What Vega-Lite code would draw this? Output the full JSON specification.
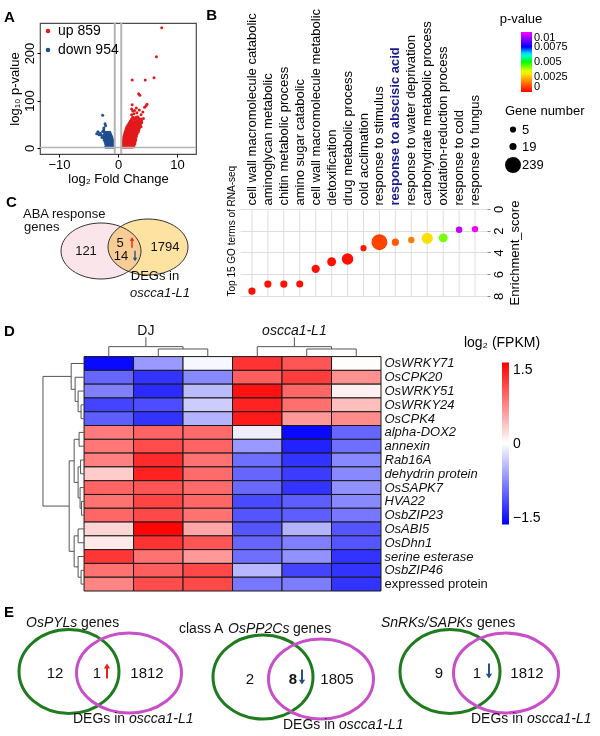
{
"$schema": "https://vega.github.io/schema/vega-lite/v6.json",
"padding": {"left": 3, "top": 8, "right": 0, "bottom": 0},
"spacing": 0,
"resolve": {"scale": {"color": "independent", "size": "independent"}, "legend": {"color": "independent", "size": "independent"}},
"config": {
  "font": "Liberation Sans",
  "view": {"stroke": null},
  "axis": {"labelColor": "#000000", "titleColor": "#000000", "domainColor": "#000000", "tickColor": "#000000", "titleFontWeight": "normal"},
  "legend": {"labelColor": "#000000", "titleColor": "#000000", "titleFontWeight": "normal"},
  "title": {"color": "#000000"}
},
"vconcat": [
{"hconcat": [
 {"vconcat": [
  {
   "width": 156, "height": 131,
   "view": {"stroke": "#4d4d4d", "strokeWidth": 1.2},
   "title": {"text": "A", "anchor": "start", "frame": "group", "offset": -3, "dx": -36, "fontSize": 15, "fontWeight": "bold"},
   "layer": [
    {
     "data": {"values": [
      {"fc":0.7,"logp":2,"reg":"up"},{"fc":0.9,"logp":2,"reg":"up"},{"fc":1.1,"logp":2,"reg":"up"},{"fc":1.3,"logp":2,"reg":"up"},{"fc":1.5,"logp":2,"reg":"up"},{"fc":1.7,"logp":2,"reg":"up"},{"fc":1.9,"logp":2,"reg":"up"},{"fc":2.1,"logp":2,"reg":"up"},{"fc":2.3,"logp":2,"reg":"up"},{"fc":2.5,"logp":2,"reg":"up"},
      {"fc":0.75,"logp":5,"reg":"up"},{"fc":0.95,"logp":5,"reg":"up"},{"fc":1.15,"logp":5,"reg":"up"},{"fc":1.35,"logp":5,"reg":"up"},{"fc":1.55,"logp":5,"reg":"up"},{"fc":1.75,"logp":5,"reg":"up"},{"fc":1.95,"logp":5,"reg":"up"},{"fc":2.2,"logp":5,"reg":"up"},{"fc":2.45,"logp":5,"reg":"up"},{"fc":2.7,"logp":5,"reg":"up"},
      {"fc":0.8,"logp":9,"reg":"up"},{"fc":1.0,"logp":9,"reg":"up"},{"fc":1.2,"logp":9,"reg":"up"},{"fc":1.4,"logp":9,"reg":"up"},{"fc":1.6,"logp":9,"reg":"up"},{"fc":1.8,"logp":9,"reg":"up"},{"fc":2.05,"logp":9,"reg":"up"},{"fc":2.3,"logp":9,"reg":"up"},{"fc":2.6,"logp":9,"reg":"up"},{"fc":2.85,"logp":9,"reg":"up"},
      {"fc":0.85,"logp":13,"reg":"up"},{"fc":1.05,"logp":13,"reg":"up"},{"fc":1.25,"logp":13,"reg":"up"},{"fc":1.45,"logp":13,"reg":"up"},{"fc":1.65,"logp":13,"reg":"up"},{"fc":1.85,"logp":13,"reg":"up"},{"fc":2.1,"logp":13,"reg":"up"},{"fc":2.35,"logp":13,"reg":"up"},{"fc":2.6,"logp":13,"reg":"up"},{"fc":2.9,"logp":13,"reg":"up"},
      {"fc":0.9,"logp":17,"reg":"up"},{"fc":1.1,"logp":17,"reg":"up"},{"fc":1.3,"logp":17,"reg":"up"},{"fc":1.5,"logp":17,"reg":"up"},{"fc":1.7,"logp":17,"reg":"up"},{"fc":1.95,"logp":17,"reg":"up"},{"fc":2.2,"logp":17,"reg":"up"},{"fc":2.45,"logp":17,"reg":"up"},{"fc":2.7,"logp":17,"reg":"up"},{"fc":3.0,"logp":17,"reg":"up"},
      {"fc":0.95,"logp":21,"reg":"up"},{"fc":1.2,"logp":21,"reg":"up"},{"fc":1.45,"logp":21,"reg":"up"},{"fc":1.7,"logp":21,"reg":"up"},{"fc":1.95,"logp":21,"reg":"up"},{"fc":2.2,"logp":21,"reg":"up"},{"fc":2.45,"logp":21,"reg":"up"},{"fc":2.7,"logp":21,"reg":"up"},{"fc":3.0,"logp":21,"reg":"up"},
      {"fc":1.0,"logp":25,"reg":"up"},{"fc":1.25,"logp":25,"reg":"up"},{"fc":1.5,"logp":25,"reg":"up"},{"fc":1.75,"logp":25,"reg":"up"},{"fc":2.0,"logp":25,"reg":"up"},{"fc":2.25,"logp":25,"reg":"up"},{"fc":2.5,"logp":25,"reg":"up"},{"fc":2.8,"logp":25,"reg":"up"},{"fc":3.1,"logp":25,"reg":"up"},
      {"fc":1.1,"logp":29,"reg":"up"},{"fc":1.35,"logp":29,"reg":"up"},{"fc":1.6,"logp":29,"reg":"up"},{"fc":1.85,"logp":29,"reg":"up"},{"fc":2.1,"logp":29,"reg":"up"},{"fc":2.35,"logp":29,"reg":"up"},{"fc":2.6,"logp":29,"reg":"up"},{"fc":2.9,"logp":29,"reg":"up"},{"fc":3.2,"logp":29,"reg":"up"},
      {"fc":1.2,"logp":33,"reg":"up"},{"fc":1.45,"logp":33,"reg":"up"},{"fc":1.7,"logp":33,"reg":"up"},{"fc":1.95,"logp":33,"reg":"up"},{"fc":2.2,"logp":33,"reg":"up"},{"fc":2.5,"logp":33,"reg":"up"},{"fc":2.8,"logp":33,"reg":"up"},{"fc":3.1,"logp":33,"reg":"up"},{"fc":3.4,"logp":33,"reg":"up"},
      {"fc":1.3,"logp":37,"reg":"up"},{"fc":1.55,"logp":37,"reg":"up"},{"fc":1.8,"logp":37,"reg":"up"},{"fc":2.05,"logp":37,"reg":"up"},{"fc":2.3,"logp":37,"reg":"up"},{"fc":2.6,"logp":37,"reg":"up"},{"fc":2.9,"logp":37,"reg":"up"},{"fc":3.2,"logp":37,"reg":"up"},{"fc":3.5,"logp":37,"reg":"up"},
      {"fc":1.4,"logp":41,"reg":"up"},{"fc":1.65,"logp":41,"reg":"up"},{"fc":1.9,"logp":41,"reg":"up"},{"fc":2.15,"logp":41,"reg":"up"},{"fc":2.4,"logp":41,"reg":"up"},{"fc":2.7,"logp":41,"reg":"up"},{"fc":3.0,"logp":41,"reg":"up"},{"fc":3.3,"logp":41,"reg":"up"},{"fc":3.6,"logp":41,"reg":"up"},
      {"fc":1.5,"logp":45,"reg":"up"},{"fc":1.8,"logp":45,"reg":"up"},{"fc":2.1,"logp":45,"reg":"up"},{"fc":2.4,"logp":45,"reg":"up"},{"fc":2.7,"logp":45,"reg":"up"},{"fc":3.0,"logp":45,"reg":"up"},{"fc":3.3,"logp":45,"reg":"up"},{"fc":3.6,"logp":45,"reg":"up"},{"fc":3.9,"logp":45,"reg":"up"},
      {"fc":1.7,"logp":49,"reg":"up"},{"fc":2.0,"logp":49,"reg":"up"},{"fc":2.3,"logp":49,"reg":"up"},{"fc":2.6,"logp":49,"reg":"up"},{"fc":2.9,"logp":49,"reg":"up"},{"fc":3.2,"logp":49,"reg":"up"},{"fc":3.5,"logp":49,"reg":"up"},{"fc":3.8,"logp":49,"reg":"up"},
      {"fc":1.9,"logp":53,"reg":"up"},{"fc":2.2,"logp":53,"reg":"up"},{"fc":2.5,"logp":53,"reg":"up"},{"fc":2.8,"logp":53,"reg":"up"},{"fc":3.1,"logp":53,"reg":"up"},{"fc":3.4,"logp":53,"reg":"up"},{"fc":3.7,"logp":53,"reg":"up"},{"fc":4.0,"logp":53,"reg":"up"},
      {"fc":2.1,"logp":57,"reg":"up"},{"fc":2.4,"logp":57,"reg":"up"},{"fc":2.8,"logp":57,"reg":"up"},{"fc":3.2,"logp":57,"reg":"up"},{"fc":3.6,"logp":57,"reg":"up"},{"fc":4.0,"logp":57,"reg":"up"},
      {"fc":2.3,"logp":61,"reg":"up"},{"fc":2.7,"logp":61,"reg":"up"},{"fc":3.1,"logp":61,"reg":"up"},{"fc":3.5,"logp":61,"reg":"up"},{"fc":3.9,"logp":61,"reg":"up"},
      {"fc":2.5,"logp":65,"reg":"up"},{"fc":3.0,"logp":65,"reg":"up"},{"fc":3.4,"logp":65,"reg":"up"},
      {"fc":2.3,"logp":70,"reg":"up"},{"fc":2.7,"logp":72,"reg":"up"},{"fc":3.2,"logp":74,"reg":"up"},{"fc":2.5,"logp":78,"reg":"up"},{"fc":2.8,"logp":79,"reg":"up"},{"fc":2.3,"logp":82,"reg":"up"},{"fc":3.1,"logp":84,"reg":"up"},{"fc":4.5,"logp":86,"reg":"up"},{"fc":4.75,"logp":89,"reg":"up"},{"fc":4.9,"logp":92,"reg":"up"},{"fc":2.4,"logp":91,"reg":"up"},{"fc":3.5,"logp":114,"reg":"up"},{"fc":3.7,"logp":111,"reg":"up"},{"fc":2.4,"logp":143,"reg":"up"},{"fc":4.6,"logp":143,"reg":"up"},{"fc":6.1,"logp":148,"reg":"up"},{"fc":6.5,"logp":192,"reg":"up"},{"fc":7.4,"logp":253,"reg":"up"},{"fc":4.3,"logp":62,"reg":"up"},{"fc":3.9,"logp":70,"reg":"up"},{"fc":4.2,"logp":76,"reg":"up"},{"fc":3.6,"logp":80,"reg":"up"},{"fc":3.3,"logp":66,"reg":"up"},
      {"fc":-0.7,"logp":2,"reg":"down"},{"fc":-0.9,"logp":2,"reg":"down"},{"fc":-1.1,"logp":2,"reg":"down"},{"fc":-1.3,"logp":2,"reg":"down"},{"fc":-1.5,"logp":2,"reg":"down"},{"fc":-1.7,"logp":2,"reg":"down"},{"fc":-1.9,"logp":2,"reg":"down"},{"fc":-2.1,"logp":2,"reg":"down"},
      {"fc":-0.75,"logp":5,"reg":"down"},{"fc":-0.95,"logp":5,"reg":"down"},{"fc":-1.15,"logp":5,"reg":"down"},{"fc":-1.35,"logp":5,"reg":"down"},{"fc":-1.55,"logp":5,"reg":"down"},{"fc":-1.75,"logp":5,"reg":"down"},{"fc":-2.0,"logp":5,"reg":"down"},
      {"fc":-0.8,"logp":9,"reg":"down"},{"fc":-1.0,"logp":9,"reg":"down"},{"fc":-1.2,"logp":9,"reg":"down"},{"fc":-1.4,"logp":9,"reg":"down"},{"fc":-1.6,"logp":9,"reg":"down"},{"fc":-1.85,"logp":9,"reg":"down"},{"fc":-2.1,"logp":9,"reg":"down"},
      {"fc":-0.85,"logp":13,"reg":"down"},{"fc":-1.05,"logp":13,"reg":"down"},{"fc":-1.25,"logp":13,"reg":"down"},{"fc":-1.45,"logp":13,"reg":"down"},{"fc":-1.7,"logp":13,"reg":"down"},{"fc":-1.95,"logp":13,"reg":"down"},{"fc":-2.2,"logp":13,"reg":"down"},
      {"fc":-0.9,"logp":17,"reg":"down"},{"fc":-1.1,"logp":17,"reg":"down"},{"fc":-1.35,"logp":17,"reg":"down"},{"fc":-1.6,"logp":17,"reg":"down"},{"fc":-1.85,"logp":17,"reg":"down"},{"fc":-2.1,"logp":17,"reg":"down"},{"fc":-2.35,"logp":17,"reg":"down"},
      {"fc":-1.0,"logp":21,"reg":"down"},{"fc":-1.25,"logp":21,"reg":"down"},{"fc":-1.5,"logp":21,"reg":"down"},{"fc":-1.75,"logp":21,"reg":"down"},{"fc":-2.0,"logp":21,"reg":"down"},{"fc":-2.3,"logp":21,"reg":"down"},
      {"fc":-1.1,"logp":25,"reg":"down"},{"fc":-1.35,"logp":25,"reg":"down"},{"fc":-1.6,"logp":25,"reg":"down"},{"fc":-1.85,"logp":25,"reg":"down"},{"fc":-2.1,"logp":25,"reg":"down"},{"fc":-2.4,"logp":25,"reg":"down"},
      {"fc":-1.25,"logp":29,"reg":"down"},{"fc":-1.5,"logp":29,"reg":"down"},{"fc":-1.75,"logp":29,"reg":"down"},{"fc":-2.0,"logp":29,"reg":"down"},{"fc":-2.3,"logp":29,"reg":"down"},
      {"fc":-1.4,"logp":33,"reg":"down"},{"fc":-1.7,"logp":33,"reg":"down"},{"fc":-2.0,"logp":33,"reg":"down"},{"fc":-2.3,"logp":33,"reg":"down"},
      {"fc":-2.6,"logp":69,"reg":"down"},{"fc":-2.2,"logp":51,"reg":"down"},{"fc":-2.1,"logp":47,"reg":"down"},{"fc":-2.4,"logp":42,"reg":"down"},{"fc":-2.4,"logp":38,"reg":"down"},{"fc":-3.4,"logp":34,"reg":"down"},{"fc":-3.0,"logp":31,"reg":"down"},{"fc":-3.2,"logp":28,"reg":"down"},{"fc":-2.8,"logp":27,"reg":"down"},{"fc":-2.6,"logp":35,"reg":"down"},{"fc":-3.6,"logp":30,"reg":"down"},{"fc":-2.7,"logp":22,"reg":"down"}
     ]},
     "mark": {"type": "circle", "size": 9, "opacity": 1},
     "encoding": {
      "x": {"field": "fc", "type": "quantitative", "title": "log₂ Fold Change", "scale": {"domain": [-13.2, 13.2], "nice": false, "zero": false},
            "axis": {"values": [-10, -5, 0, 5, 10], "labelOverlap": false, "grid": false, "domain": false, "tickSize": 3, "labelPadding": 1, "labelFontSize": 13, "titleFontSize": 13, "titlePadding": 1}},
      "y": {"field": "logp", "type": "quantitative", "title": "log₁₀ p-value", "scale": {"domain": [-12.6, 263.2], "nice": false, "zero": false},
            "axis": {"values": [0, 100, 200], "labelOverlap": false, "grid": false, "domain": false, "tickSize": 3, "labelPadding": 1, "labelFontSize": 13, "labelAngle": -90, "labelAlign": "center", "labelBaseline": "bottom", "titleFontSize": 13, "titlePadding": 2}},
      "color": {"field": "reg", "type": "nominal", "scale": {"domain": ["up", "down"], "range": ["#e3191c", "#1f4e8e"]},
                "legend": {"orient": "top-left", "title": null, "offset": 1, "padding": 0, "symbolType": "circle", "symbolSize": 20, "labelFontSize": 14, "labelOffset": 3, "rowPadding": 5, "labelExpr": "datum.label == 'up' ? 'up 859' : 'down 954'"}}
     }
    },
    {
     "data": {"values": [{"fc": -0.55}, {"fc": 0.55}]},
     "mark": {"type": "rule", "color": "#b5b5b5", "strokeWidth": 2},
     "encoding": {"x": {"field": "fc", "type": "quantitative", "title": "log₂ Fold Change", "scale": {"domain": [-13.2, 13.2], "nice": false, "zero": false}}}
    },
    {
     "data": {"values": [{"logp": 1.3}]},
     "mark": {"type": "rule", "color": "#b5b5b5", "strokeWidth": 1.5},
     "encoding": {"y": {"field": "logp", "type": "quantitative", "title": "log₁₀ p-value", "scale": {"domain": [-12.6, 263.2], "nice": false, "zero": false}}}
    }
   ]
  },
  {
   "width": 156, "height": 130,
   "encoding": {
    "x": {"field": "x", "type": "quantitative", "scale": {"domain": [3.6, 19.2], "nice": false, "zero": false}, "axis": null},
    "y": {"field": "y", "type": "quantitative", "scale": {"domain": [0, 13.0], "nice": false, "zero": false}, "axis": null}
   },
   "layer": [
    {"data": {"values": [{"set": "ABA response genes", "x": 9.7, "y": 7.3}, {"set": "DEGs in oscca1-L1", "x": 14.4, "y": 7.7}]},
     "mark": {"type": "point", "shape": "M-1,0C-1,-0.387,-0.552,-0.7,0,-0.7C0.552,-0.7,1,-0.387,1,0C1,0.387,0.552,0.7,0,0.7C-0.552,0.7,-1,0.387,-1,0Z", "size": 6400, "filled": true, "opacity": 1, "blend": "multiply", "strokeWidth": 0},
     "encoding": {"color": {"field": "set", "type": "nominal", "scale": {"domain": ["ABA response genes", "DEGs in oscca1-L1"], "range": ["#fae6ea", "#fde2a2"]}, "legend": null}}},
    {"data": {"values": [{"set": "ABA response genes", "x": 9.7, "y": 7.3}, {"set": "DEGs in oscca1-L1", "x": 14.4, "y": 7.7}]},
     "mark": {"type": "point", "shape": "M-1,0C-1,-0.387,-0.552,-0.7,0,-0.7C0.552,-0.7,1,-0.387,1,0C1,0.387,0.552,0.7,0,0.7C-0.552,0.7,-1,0.387,-1,0Z", "size": 6400, "filled": false, "color": "#333333", "strokeWidth": 1, "opacity": 1}},
    {"data": {"values": [{"label": "121", "x": 8.2, "y": 7.3}, {"label": "5", "x": 11.6, "y": 8.15}, {"label": "14", "x": 11.7, "y": 6.8}, {"label": "1794", "x": 16.1, "y": 7.7}]},
     "mark": {"type": "text", "fontSize": 13, "color": "#111111", "baseline": "middle"},
     "encoding": {"text": {"field": "label"}}},
    {"data": {"values": [{"label": "ABA response", "x": 1.9, "y": 11.0}, {"label": "genes", "x": 2.0, "y": 9.7}]},
     "mark": {"type": "text", "fontSize": 13, "color": "#111111", "align": "left", "baseline": "middle"},
     "encoding": {"text": {"field": "label"}}},
    {"data": {"values": [{"label": "DEGs in", "x": 15.1, "y": 4.8}]},
     "mark": {"type": "text", "fontSize": 13, "color": "#111111", "baseline": "middle"},
     "encoding": {"text": {"field": "label"}}},
    {"data": {"values": [{"label": "oscca1-L1", "x": 15.6, "y": 3.1}]},
     "mark": {"type": "text", "fontSize": 13, "fontStyle": "italic", "color": "#111111", "baseline": "middle"},
     "encoding": {"text": {"field": "label"}}},
    {"data": {"values": [{"x": 12.8, "y": 8.15}]},
     "mark": {"type": "point", "shape": "M-0.13,1L0.13,1L0.13,-0.35L0.42,-0.35L0,-1L-0.42,-0.35L-0.13,-0.35Z", "size": 110, "filled": true, "color": "#ee1c1c", "opacity": 1}},
    {"data": {"values": [{"x": 13.1, "y": 6.8}]},
     "mark": {"type": "point", "shape": "M-0.13,1L0.13,1L0.13,-0.35L0.42,-0.35L0,-1L-0.42,-0.35L-0.13,-0.35Z", "angle": 180, "size": 110, "filled": true, "color": "#1f4e8c", "opacity": 1}},
    {"data": {"values": [{"label": "C", "x": 0.2, "y": 12.95}]},
     "mark": {"type": "text", "fontSize": 15, "fontWeight": "bold", "color": "#000000", "align": "left", "baseline": "top"},
     "encoding": {"text": {"field": "label"}}}
   ]
  }
 ], "spacing": 8, "resolve": {"scale": {"color": "independent", "size": "independent"}, "legend": {"color": "independent", "size": "independent"}}},
 {
  "width": 247, "height": 273,
  "title": {"text": "B", "orient": "left", "anchor": "end", "angle": 0, "align": "right", "baseline": "top", "offset": -2, "fontSize": 15, "fontWeight": "bold"},
  "data": {"values": [
   {"term": "cell wall macromolecule catabolic", "score": 7.55, "pvalue": 0.0002, "genes": 22},
   {"term": "aminoglycan metabolic", "score": 6.9, "pvalue": 0.0002, "genes": 20},
   {"term": "chitin metabolic process", "score": 6.9, "pvalue": 0.0002, "genes": 20},
   {"term": "amino sugar catabolic", "score": 6.9, "pvalue": 0.0002, "genes": 18},
   {"term": "cell wall macromolecule metabolic", "score": 5.5, "pvalue": 0.0002, "genes": 38},
   {"term": "detoxification", "score": 4.85, "pvalue": 0.0002, "genes": 49},
   {"term": "drug metabolic process", "score": 4.6, "pvalue": 0.0002, "genes": 108},
   {"term": "cold acclimation", "score": 3.6, "pvalue": 0.0003, "genes": 5},
   {"term": "response to stimulus", "score": 3.05, "pvalue": 0.0009, "genes": 239},
   {"term": "response to abscisic acid", "score": 3.05, "pvalue": 0.0012, "genes": 20},
   {"term": "response to water deprivation", "score": 2.85, "pvalue": 0.0017, "genes": 9},
   {"term": "carbohydrate metabolic process", "score": 2.7, "pvalue": 0.0029, "genes": 101},
   {"term": "oxidation-reduction process", "score": 2.65, "pvalue": 0.0042, "genes": 49},
   {"term": "response to cold", "score": 1.9, "pvalue": 0.0094, "genes": 9},
   {"term": "response to fungus", "score": 1.85, "pvalue": 0.0099, "genes": 9}
  ]},
  "layer": [
   {
    "mark": {"type": "rule", "color": "#dedede", "strokeWidth": 1},
    "encoding": {
     "x": {"field": "term", "type": "nominal", "sort": null, "title": "Top 15 GO terms of RNA-seq", "scale": {"padding": 0.5}},
     "y": {"datum": 0, "type": "quantitative", "title": "Enrichment_score"},
     "y2": {"datum": 8}
    }
   },
   {
    "mark": {"type": "circle", "opacity": 1},
    "encoding": {
     "x": {"field": "term", "type": "nominal", "sort": null, "title": "Top 15 GO terms of RNA-seq", "scale": {"padding": 0.5},
           "axis": {"orient": "top", "offset": -186, "labelAngle": -90, "labelAlign": "left", "labelBaseline": "middle", "labelFontSize": 13, "labelPadding": 4, "labelLimit": 400, "labelOverlap": false, "ticks": false, "domain": false, "grid": false,
                    "labelColor": {"condition": {"test": "datum.value === 'response to abscisic acid'", "value": "#1a1a8f"}, "value": "#000000"},
                    "labelFontWeight": {"condition": {"test": "datum.value === 'response to abscisic acid'", "value": "bold"}, "value": "normal"},
                    "titleFontSize": 10, "titleAngle": -90, "titleX": -4, "titleY": 87, "titleAlign": "left", "titleBaseline": "bottom"}},
     "y": {"field": "score", "type": "quantitative", "title": "Enrichment_score", "scale": {"domain": [-17.103, 8], "reverse": true, "nice": false, "zero": false},
           "axis": {"orient": "right", "values": [0, 2, 4, 6, 8], "labelOverlap": false, "labelAngle": -90, "labelAlign": "center", "labelBaseline": "top", "labelFontSize": 13, "labelPadding": 2, "tickSize": 3, "tickColor": "#888888", "domain": false, "grid": true, "gridColor": "#dedede",
                    "titleFontSize": 13, "titleAngle": -90, "titleBaseline": "top", "titlePadding": 3, "titleY": 229.5}},
     "color": {"field": "pvalue", "type": "quantitative",
               "scale": {"domain": [0, 0.0017, 0.0033, 0.005, 0.0063, 0.0075, 0.01], "range": ["#ff0000", "#ff8000", "#ffff00", "#00ff00", "#00ffff", "#0000ff", "#ff00ff"], "interpolate": "rgb"},
               "legend": {"orient": "none", "legendX": 260, "legendY": -10, "title": "p-value", "titleFontSize": 13, "titleAnchor": "start", "titleAlign": "center", "titlePadding": 6, "gradientLength": 60, "gradientThickness": 11, "gradientStrokeWidth": 0, "labelFontSize": 11, "labelOffset": 2, "labelOverlap": false, "values": [0, 0.0025, 0.005, 0.0075, 0.01], "format": ".4~f", "direction": "vertical"}},
     "size": {"field": "genes", "type": "quantitative", "scale": {"domain": [5, 239], "range": [38, 254], "zero": false},
              "legend": {"orient": "none", "legendX": 265, "legendY": 82, "title": "Gene number", "titleFontSize": 13, "titlePadding": 5, "values": [5, 19, 239], "symbolType": "circle", "symbolFillColor": "#000000", "symbolStrokeColor": "#000000", "symbolStrokeWidth": 0, "symbolOpacity": 1, "labelFontSize": 13, "labelOffset": 1, "rowPadding": 3}}
    }
   }
  ]
 }
], "spacing": 8, "resolve": {"scale": {"color": "independent", "size": "independent"}, "legend": {"color": "independent", "size": "independent"}}},
{
 "width": 341, "height": 262,
 "layer": [
  {
   "data": {"values": [
    {"gene": "OsWRKY71", "DJ-1": -1.45, "DJ-2": -0.6, "DJ-3": -0.05, "L1-1": 1.2, "L1-2": 1.0, "L1-3": 0.02},
    {"gene": "OsCPK20", "DJ-1": -0.9, "DJ-2": -1.2, "DJ-3": -0.7, "L1-1": 0.95, "L1-2": 1.15, "L1-3": 0.65},
    {"gene": "OsWRKY51", "DJ-1": -0.75, "DJ-2": -1.25, "DJ-3": -0.4, "L1-1": 1.4, "L1-2": 0.9, "L1-3": 0.08},
    {"gene": "OsWRKY24", "DJ-1": -1.1, "DJ-2": -1.05, "DJ-3": -0.3, "L1-1": 1.3, "L1-2": 0.85, "L1-3": 0.38},
    {"gene": "OsCPK4", "DJ-1": -0.95, "DJ-2": -1.2, "DJ-3": -0.45, "L1-1": 1.35, "L1-2": 0.6, "L1-3": 0.68},
    {"gene": "alpha-DOX2", "DJ-1": 0.78, "DJ-2": 0.92, "DJ-3": 0.87, "L1-1": -0.1, "L1-2": -1.45, "L1-3": -0.9},
    {"gene": "annexin", "DJ-1": 0.8, "DJ-2": 1.05, "DJ-3": 0.92, "L1-1": -0.6, "L1-2": -1.3, "L1-3": -0.85},
    {"gene": "Rab16A", "DJ-1": 0.75, "DJ-2": 1.25, "DJ-3": 0.83, "L1-1": -0.85, "L1-2": -1.2, "L1-3": -0.7},
    {"gene": "dehydrin protein", "DJ-1": 0.3, "DJ-2": 1.3, "DJ-3": 0.87, "L1-1": -0.9, "L1-2": -1.15, "L1-3": -0.7},
    {"gene": "OsSAPK7", "DJ-1": 0.92, "DJ-2": 1.0, "DJ-3": 0.87, "L1-1": -0.88, "L1-2": -1.2, "L1-3": -0.65},
    {"gene": "HVA22", "DJ-1": 0.83, "DJ-2": 1.1, "DJ-3": 0.9, "L1-1": -1.07, "L1-2": -0.95, "L1-3": -0.7},
    {"gene": "OsbZIP23", "DJ-1": 0.9, "DJ-2": 1.07, "DJ-3": 0.83, "L1-1": -1.0, "L1-2": -0.95, "L1-3": -0.8},
    {"gene": "OsABI5", "DJ-1": 0.25, "DJ-2": 1.47, "DJ-3": 0.53, "L1-1": -1.0, "L1-2": -0.45, "L1-3": -1.0},
    {"gene": "OsDhn1", "DJ-1": 0.13, "DJ-2": 1.2, "DJ-3": 1.0, "L1-1": -0.9, "L1-2": -0.75, "L1-3": -1.0},
    {"gene": "serine esterase", "DJ-1": 1.18, "DJ-2": 0.83, "DJ-3": 0.6, "L1-1": -0.85, "L1-2": -0.65, "L1-3": -1.2},
    {"gene": "OsbZIP46", "DJ-1": 0.83, "DJ-2": 0.95, "DJ-3": 1.07, "L1-1": -0.42, "L1-2": -1.1, "L1-3": -1.2},
    {"gene": "expressed protein", "DJ-1": 0.72, "DJ-2": 1.05, "DJ-3": 1.07, "L1-1": -0.8, "L1-2": -0.77, "L1-3": -1.2}
   ]},
   "transform": [{"fold": ["DJ-1", "DJ-2", "DJ-3", "L1-1", "L1-2", "L1-3"], "as": ["sample", "value"]}],
   "mark": {"type": "rect", "stroke": "#1a1a1a", "strokeWidth": 1},
   "encoding": {
    "x": {"field": "sample", "type": "nominal", "sort": null, "scale": {"paddingInner": 0, "paddingOuter": 0.445, "align": 1}, "axis": null},
    "y": {"field": "gene", "type": "nominal", "sort": null, "scale": {"paddingInner": 0, "paddingOuter": 1, "align": 1},
          "axis": {"orient": "right", "title": null, "ticks": false, "domain": false, "labelPadding": 3, "labelFontSize": 13, "labelColor": "#111111",
                   "labelFontStyle": {"condition": {"test": "datum.value === 'expressed protein'", "value": "normal"}, "value": "italic"}}},
    "color": {"field": "value", "type": "quantitative", "scale": {"domain": [-1.5, 0, 1.5], "range": ["#0000ff", "#ffffff", "#ff0000"], "interpolate": "rgb"},
              "legend": {"orient": "none", "legendX": 424, "legendY": 6.5, "title": "log₂ (FPKM)", "titleFontSize": 14, "titleAnchor": "start", "titleAlign": "center", "titlePadding": 13, "gradientLength": 162, "gradientThickness": 7, "gradientStrokeWidth": 0, "labelFontSize": 14, "labelOffset": 4, "labelOverlap": false, "values": [-1.5, 0, 1.5], "format": ".2~g", "direction": "vertical"}}
   }
  },
  {
   "data": {"values": [
    {"x":0.5,"y":0,"x2":0.5,"y2":-0.72},{"x":1.5,"y":0,"x2":1.5,"y2":-0.55},{"x":2.5,"y":0,"x2":2.5,"y2":-0.55},{"x":1.5,"y":-0.55,"x2":2.5,"y2":-0.55},{"x":2.0,"y":-0.55,"x2":2.0,"y2":-0.72},{"x":0.5,"y":-0.72,"x2":2.0,"y2":-0.72},{"x":1.25,"y":-0.72,"x2":1.25,"y2":-1.4},
    {"x":3.5,"y":0,"x2":3.5,"y2":-0.72},{"x":4.5,"y":0,"x2":4.5,"y2":-0.55},{"x":5.5,"y":0,"x2":5.5,"y2":-0.55},{"x":4.5,"y":-0.55,"x2":5.5,"y2":-0.55},{"x":5.0,"y":-0.55,"x2":5.0,"y2":-0.72},{"x":3.5,"y":-0.72,"x2":5.0,"y2":-0.72},{"x":4.25,"y":-0.72,"x2":4.25,"y2":-1.4},
    {"x":0,"y":0.5,"x2":-0.26,"y2":0.5},{"x":0,"y":1.5,"x2":-0.18,"y2":1.5},{"x":0,"y":2.5,"x2":-0.12,"y2":2.5},{"x":0,"y":3.5,"x2":-0.06,"y2":3.5},{"x":0,"y":4.5,"x2":-0.06,"y2":4.5},{"x":0,"y":5.5,"x2":-0.1,"y2":5.5},{"x":0,"y":6.5,"x2":-0.1,"y2":6.5},{"x":0,"y":7.5,"x2":-0.07,"y2":7.5},{"x":0,"y":8.5,"x2":-0.07,"y2":8.5},{"x":0,"y":9.5,"x2":-0.08,"y2":9.5},{"x":0,"y":10.5,"x2":-0.05,"y2":10.5},{"x":0,"y":11.5,"x2":-0.05,"y2":11.5},{"x":0,"y":12.5,"x2":-0.12,"y2":12.5},{"x":0,"y":13.5,"x2":-0.12,"y2":13.5},{"x":0,"y":14.5,"x2":-0.12,"y2":14.5},{"x":0,"y":15.5,"x2":-0.06,"y2":15.5},{"x":0,"y":16.5,"x2":-0.06,"y2":16.5},
    {"x":-0.06,"y":3.5,"x2":-0.06,"y2":4.5},{"x":-0.12,"y":2.5,"x2":-0.12,"y2":4.0},{"x":-0.18,"y":1.5,"x2":-0.18,"y2":3.25},{"x":-0.26,"y":0.5,"x2":-0.26,"y2":2.375},{"x":-0.1,"y":5.5,"x2":-0.1,"y2":6.5},{"x":-0.05,"y":10.5,"x2":-0.05,"y2":11.5},{"x":-0.08,"y":9.5,"x2":-0.08,"y2":11.0},{"x":-0.07,"y":7.5,"x2":-0.07,"y2":8.5},{"x":-0.12,"y":8.0,"x2":-0.12,"y2":10.25},{"x":-0.2,"y":6.0,"x2":-0.2,"y2":9.125},{"x":-0.12,"y":12.5,"x2":-0.12,"y2":13.5},{"x":-0.06,"y":15.5,"x2":-0.06,"y2":16.5},{"x":-0.12,"y":14.5,"x2":-0.12,"y2":16.0},{"x":-0.2,"y":13.0,"x2":-0.2,"y2":15.25},{"x":-0.3,"y":7.5625,"x2":-0.3,"y2":14.125},{"x":-0.83,"y":1.4375,"x2":-0.83,"y2":10.84},
    {"x":-0.06,"y":4.0,"x2":-0.12,"y2":4.0},{"x":-0.12,"y":3.25,"x2":-0.18,"y2":3.25},{"x":-0.18,"y":2.375,"x2":-0.26,"y2":2.375},{"x":-0.26,"y":1.4375,"x2":-0.83,"y2":1.4375},{"x":-0.05,"y":11.0,"x2":-0.08,"y2":11.0},{"x":-0.08,"y":10.25,"x2":-0.12,"y2":10.25},{"x":-0.07,"y":8.0,"x2":-0.12,"y2":8.0},{"x":-0.1,"y":6.0,"x2":-0.2,"y2":6.0},{"x":-0.12,"y":9.125,"x2":-0.2,"y2":9.125},{"x":-0.2,"y":7.5625,"x2":-0.3,"y2":7.5625},{"x":-0.12,"y":13.0,"x2":-0.2,"y2":13.0},{"x":-0.06,"y":16.0,"x2":-0.12,"y2":16.0},{"x":-0.12,"y":15.25,"x2":-0.2,"y2":15.25},{"x":-0.2,"y":14.125,"x2":-0.3,"y2":14.125},{"x":-0.3,"y":10.84,"x2":-0.83,"y2":10.84}
   ]},
   "mark": {"type": "rule", "color": "#555555", "strokeWidth": 1},
   "encoding": {
    "x": {"field": "x", "type": "quantitative", "scale": {"domain": [-0.89, 6], "nice": false, "zero": false}, "axis": null},
    "x2": {"field": "x2"},
    "y": {"field": "y", "type": "quantitative", "scale": {"domain": [-2, 17], "reverse": true, "nice": false, "zero": false}, "axis": null},
    "y2": {"field": "y2"}
   }
  },
  {
   "data": {"values": [{"label": "DJ", "x": 1.25, "y": -1.85}]},
   "mark": {"type": "text", "fontSize": 14, "color": "#111111", "baseline": "middle"},
   "encoding": {
    "x": {"field": "x", "type": "quantitative", "scale": {"domain": [-0.89, 6], "nice": false, "zero": false}, "axis": null},
    "y": {"field": "y", "type": "quantitative", "scale": {"domain": [-2, 17], "reverse": true, "nice": false, "zero": false}, "axis": null},
    "text": {"field": "label"}
   }
  },
  {
   "data": {"values": [{"label": "oscca1-L1", "x": 4.25, "y": -1.85}]},
   "mark": {"type": "text", "fontSize": 14, "fontStyle": "italic", "color": "#111111", "baseline": "middle"},
   "encoding": {
    "x": {"field": "x", "type": "quantitative", "scale": {"domain": [-0.89, 6], "nice": false, "zero": false}, "axis": null},
    "y": {"field": "y", "type": "quantitative", "scale": {"domain": [-2, 17], "reverse": true, "nice": false, "zero": false}, "axis": null},
    "text": {"field": "label"}
   }
  },
  {
   "data": {"values": [{"label": "D", "x": -1.617, "y": -2.36}]},
   "mark": {"type": "text", "fontSize": 15, "fontWeight": "bold", "color": "#000000", "align": "left", "baseline": "top"},
   "encoding": {
    "x": {"field": "x", "type": "quantitative", "scale": {"domain": [-0.89, 6], "nice": false, "zero": false}, "axis": null},
    "y": {"field": "y", "type": "quantitative", "scale": {"domain": [-2, 17], "reverse": true, "nice": false, "zero": false}, "axis": null},
    "text": {"field": "label"}
   }
  }
 ],
 "resolve": {"scale": {"x": "independent", "y": "independent"}}
},
{
 "width": 557, "height": 145,
 "encoding": {
  "x": {"field": "x", "type": "quantitative", "scale": {"domain": [3.6, 59.3], "nice": false, "zero": false}, "axis": null},
  "y": {"field": "y", "type": "quantitative", "scale": {"domain": [0, 14.5], "nice": false, "zero": false}, "axis": null}
 },
 "layer": [
  {"data": {"values": [{"x": 6.5, "y": 6.55}, {"x": 25.9, "y": 6.0}, {"x": 44.6, "y": 6.55}]},
   "mark": {"type": "point", "shape": "M-1,0C-1,-0.464,-0.552,-0.84,0,-0.84C0.552,-0.84,1,-0.464,1,0C1,0.464,0.552,0.84,0,0.84C-0.552,0.84,-1,0.464,-1,0Z", "size": 10000, "filled": false, "color": "#1e7b1e", "strokeWidth": 3, "opacity": 1}},
  {"data": {"values": [{"x": 12.5, "y": 6.4}, {"x": 31.7, "y": 5.8}, {"x": 50.2, "y": 6.4}]},
   "mark": {"type": "point", "shape": "M-1,0C-1,-0.42,-0.552,-0.76,0,-0.76C0.552,-0.76,1,-0.42,1,0C1,0.42,0.552,0.76,0,0.76C-0.552,0.76,-1,0.42,-1,0Z", "size": 11025, "filled": false, "color": "#c94fc9", "strokeWidth": 3, "opacity": 1}},
  {"data": {"values": [{"label": "12", "x": 5.1, "y": 6.4}, {"label": "1", "x": 9.3, "y": 6.4}, {"label": "1812", "x": 14.3, "y": 6.4}, {"label": "2", "x": 24.6, "y": 5.8}, {"label": "1805", "x": 33.3, "y": 5.8}, {"label": "9", "x": 43.5, "y": 6.4}, {"label": "1", "x": 47.3, "y": 6.4}, {"label": "1812", "x": 52.3, "y": 6.4}]},
   "mark": {"type": "text", "fontSize": 15, "color": "#111111", "baseline": "middle"},
   "encoding": {"text": {"field": "label"}}},
  {"data": {"values": [{"label": "8", "x": 28.9, "y": 5.8}]},
   "mark": {"type": "text", "fontSize": 15, "fontWeight": "bold", "color": "#111111", "baseline": "middle"},
   "encoding": {"text": {"field": "label"}}},
  {"data": {"values": [{"x": 10.3, "y": 6.6}]},
   "mark": {"type": "point", "shape": "M-0.13,1L0.13,1L0.13,-0.35L0.42,-0.35L0,-1L-0.42,-0.35L-0.13,-0.35Z", "size": 225, "filled": true, "color": "#ee1c1c", "opacity": 1}},
  {"data": {"values": [{"x": 29.8, "y": 6.0}, {"x": 48.5, "y": 6.6}]},
   "mark": {"type": "point", "shape": "M-0.13,1L0.13,1L0.13,-0.35L0.42,-0.35L0,-1L-0.42,-0.35L-0.13,-0.35Z", "angle": 180, "size": 225, "filled": true, "color": "#1f4e8c", "opacity": 1}},
  {"data": {"values": [{"label": "OsPYLs", "x": 2.2, "y": 11.4}, {"label": "OsPP2Cs", "x": 22.4, "y": 10.8}, {"label": "SnRKs/SAPKs", "x": 37.7, "y": 11.4}, {"label": "oscca1-L1", "x": 12.5, "y": 1.8}, {"label": "oscca1-L1", "x": 33.5, "y": 1.2}, {"label": "oscca1-L1", "x": 52.3, "y": 1.8}]},
   "mark": {"type": "text", "fontSize": 14, "fontStyle": "italic", "color": "#111111", "align": "left", "baseline": "middle"},
   "encoding": {"text": {"field": "label"}}},
  {"data": {"values": [{"label": "genes", "x": 7.7, "y": 11.4}, {"label": "class A", "x": 17.5, "y": 10.8}, {"label": "genes", "x": 28.9, "y": 10.8}, {"label": "genes", "x": 47.3, "y": 11.4}, {"label": "DEGs in", "x": 6.9, "y": 1.8}, {"label": "DEGs in", "x": 27.9, "y": 1.2}, {"label": "DEGs in", "x": 46.7, "y": 1.8}]},
   "mark": {"type": "text", "fontSize": 14, "color": "#111111", "align": "left", "baseline": "middle"},
   "encoding": {"text": {"field": "label"}}},
  {"data": {"values": [{"label": "E", "x": 0, "y": 13.25}]},
   "mark": {"type": "text", "fontSize": 15, "fontWeight": "bold", "color": "#000000", "align": "left", "baseline": "top"},
   "encoding": {"text": {"field": "label"}}}
 ]
}
]
}
